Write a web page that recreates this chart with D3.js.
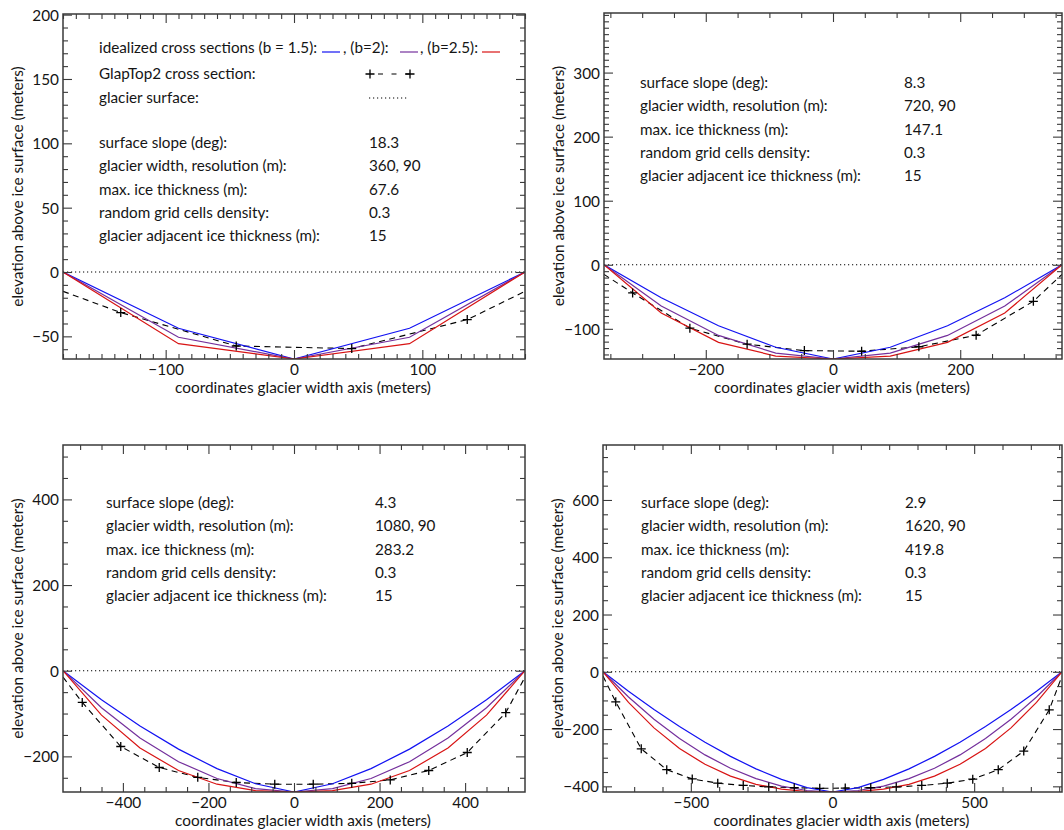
<!DOCTYPE html>
<html>
<head>
<meta charset="utf-8">
<script src="https://cdn.jsdelivr.net/npm/d3@7"></script>
<style>
  body { margin: 0; background: #fff; }
  svg { display: block; }
  text { font-family: Lato, "Open Sans", sans-serif; fill: #151515; }
</style>
</head>
<body>
<svg id="chart" width="1064" height="830"></svg>
<script>
// ---------------------------------------------------------------
// Glacier cross sections: idealized power-law beds (b = 1.5, 2, 2.5)
// versus the GlapTop2 reconstruction, for four glacier widths.
// ---------------------------------------------------------------

const infoLabels = [
  "surface slope (deg):",
  "glacier width, resolution (m):",
  "max. ice thickness (m):",
  "random grid cells density:",
  "glacier adjacent ice thickness (m):"
];

// Panel 1 — 360 m wide glacier
const xIdeal1   = [-180, -90, 0, 90, 180];
const idealB15_1 = [0, -43.7, -67.6, -43.7, 0];
const idealB20_1 = [0, -50.7, -67.6, -50.7, 0];
const idealB25_1 = [0, -55.7, -67.6, -55.7, 0];
const xGlap1    = [-180, -135, -45, 45, 135, 180];
const glap1     = [-15, -31.5, -57.5, -59.5, -37, -15];
const info1     = ["18.3", "360, 90", "67.6", "0.3", "15"];
const xTicks1   = [-100, 0, 100];
const yTicks1   = [-50, 0, 50, 100, 150, 200];

// Panel 2 — 720 m wide glacier
const xIdeal2   = [-360, -270, -180, -90, 0, 90, 180, 270, 360];
const idealB15_2 = [0, -51.6, -95.1, -128.7, -147.1, -128.7, -95.1, -51.6, 0];
const idealB20_2 = [0, -64.4, -110.3, -137.9, -147.1, -137.9, -110.3, -64.4, 0];
const idealB25_2 = [0, -75.4, -121.1, -142.5, -147.1, -142.5, -121.1, -75.4, 0];
const xGlap2    = [-360, -315, -225, -135, -45, 45, 135, 225, 315, 360];
const glap2     = [-15, -44, -99, -124, -134, -135, -128, -110, -57, -15];
const info2     = ["8.3", "720, 90", "147.1", "0.3", "15"];
const xTicks2   = [-200, 0, 200];
const yTicks2   = [-100, 0, 100, 200, 300];

// Panel 3 — 1080 m wide glacier
const xIdeal3   = [-540, -450, -360, -270, -180, -90, 0, 90, 180, 270, 360, 450, 540];
const idealB15_3 = [0, -67.8, -129.1, -183.1, -228.7, -263.9, -283.2, -263.9, -228.7, -183.1, -129.1, -67.8, 0];
const idealB20_3 = [0, -86.5, -157.3, -212.4, -251.7, -275.3, -283.2, -275.3, -251.7, -212.4, -157.3, -86.5, 0];
const idealB25_3 = [0, -103.7, -180.4, -233.1, -265.0, -280.0, -283.2, -280.0, -265.0, -233.1, -180.4, -103.7, 0];
const xGlap3    = [-540, -495, -405, -315, -225, -135, -45, 45, 135, 225, 315, 405, 495, 540];
const glap3     = [-15, -74, -177, -226, -249, -261, -265, -265, -263, -255, -233, -191, -98, -15];
const info3     = ["4.3", "1080, 90", "283.2", "0.3", "15"];
const xTicks3   = [-400, -200, 0, 200, 400];
const yTicks3   = [-200, 0, 200, 400];

// Panel 4 — 1620 m wide glacier
const xIdeal4   = [-810, -720, -630, -540, -450, -360, -270, -180, -90, 0,
                   90, 180, 270, 360, 450, 540, 630, 720, 810];
const idealB15_4 = [0, -68.0, -131.9, -191.3, -246.0, -295.4, -339.0, -375.8, -404.3, -419.8,
                    -404.3, -375.8, -339.0, -295.4, -246.0, -191.3, -131.9, -68.0, 0];
const idealB20_4 = [0, -88.1, -165.9, -233.2, -290.2, -336.9, -373.2, -399.1, -414.6, -419.8,
                    -414.6, -399.1, -373.2, -336.9, -290.2, -233.2, -165.9, -88.1, 0];
const idealB25_4 = [0, -107.1, -195.8, -267.5, -323.2, -364.5, -392.9, -410.0, -418.1, -419.8,
                    -418.1, -410.0, -392.9, -364.5, -323.2, -267.5, -195.8, -107.1, 0];
const xGlap4    = [-810, -765, -675, -585, -495, -405, -315, -225, -135, -45,
                   45, 135, 225, 315, 405, 495, 585, 675, 765, 810];
const glap4     = [-15, -105, -269, -342, -374, -389, -397, -402, -405, -407,
                   -406, -405, -402, -397, -389, -375, -342, -277, -133, -15];
const info4     = ["2.9", "1620, 90", "419.8", "0.3", "15"];
const xTicks4   = [-500, 0, 500];
const yTicks4   = [-400, -200, 0, 200, 400, 600];

const seriesColors = ["#1212f2", "#74309c", "#d81414"];

// ---------------------------------------------------------------
const svg = d3.select("#chart");

// font sizes chosen so that reference strings span a set width
function fitSize(str, width) {
  const t = svg.append("text").style("font-size", "100px").text(str);
  const w = t.node().getComputedTextLength();
  t.remove();
  return 100 * width / w;
}
const axisFont = fitSize("coordinates glacier width axis (meters)", 256);
const textFont = fitSize("glacier adjacent ice thickness (m):", 221);

const panels = [
  { xIdeal: xIdeal1, ideal: [idealB15_1, idealB20_1, idealB25_1], xGlap: xGlap1, glap: glap1,
    info: info1, xTicks: xTicks1, yTicks: yTicks1, xMinor: 10, yMinor: 10, yTop: 200.5,
    box: { left: 63, right: 525, top: 14, bottom: 359 },
    infoX: [99, 369], infoY: 143, legend: true },
  { xIdeal: xIdeal2, ideal: [idealB15_2, idealB20_2, idealB25_2], xGlap: xGlap2, glap: glap2,
    info: info2, xTicks: xTicks2, yTicks: yTicks2, xMinor: 50, yMinor: 10, yTop: 393,
    box: { left: 604, right: 1062, top: 13, bottom: 359 },
    infoX: [640, 904], infoY: 83, legend: false },
  { xIdeal: xIdeal3, ideal: [idealB15_3, idealB20_3, idealB25_3], xGlap: xGlap3, glap: glap3,
    info: info3, xTicks: xTicks3, yTicks: yTicks3, xMinor: 50, yMinor: 50, yTop: 527,
    box: { left: 63, right: 525, top: 445, bottom: 792 },
    infoX: [106, 375], infoY: 503, legend: false },
  { xIdeal: xIdeal4, ideal: [idealB15_4, idealB20_4, idealB25_4], xGlap: xGlap4, glap: glap4,
    info: info4, xTicks: xTicks4, yTicks: yTicks4, xMinor: 100, yMinor: 50, yTop: 792,
    box: { left: 603, right: 1062, top: 445, bottom: 792 },
    infoX: [641, 905], infoY: 503, legend: false }
];

const plusPath = "M-4.5,0H4.5M0,-4.5V4.5";

function minorValues(domain, step, majors) {
  const lo = Math.ceil(domain[0] / step) * step;
  const hi = Math.floor(domain[1] / step) * step;
  return d3.range(lo, hi + step / 2, step).filter(v => !majors.includes(v));
}

function styleAxis(sel, showLabels) {
  sel.select(".domain").remove();
  sel.selectAll(".tick line").attr("stroke", "#3a3a3a").attr("stroke-width", 1.1);
  if (!showLabels) sel.selectAll(".tick text").remove();
  sel.selectAll(".tick text")
    .attr("fill", "#151515")
    .style("font-size", axisFont + "px")
    .style("font-family", "Lato, 'Open Sans', sans-serif");
}

panels.forEach((p, idx) => {
  const b = p.box;
  const xDomain = d3.extent(p.xIdeal);
  const yDomain = [d3.min(p.ideal[0]), p.yTop];
  const x = d3.scaleLinear().domain(xDomain).range([b.left, b.right]);
  const y = d3.scaleLinear().domain(yDomain).range([b.bottom, b.top]);

  const g = svg.append("g");
  const clipId = "clip" + idx;
  g.append("clipPath").attr("id", clipId)
    .append("rect")
    .attr("x", b.left).attr("y", b.top)
    .attr("width", b.right - b.left).attr("height", b.bottom - b.top);

  const plot = g.append("g").attr("clip-path", `url(#${clipId})`);

  // glacier surface
  plot.append("line")
    .attr("x1", x(xDomain[0])).attr("x2", x(xDomain[1]))
    .attr("y1", y(0)).attr("y2", y(0))
    .attr("stroke", "#000").attr("stroke-width", 1.1)
    .attr("stroke-dasharray", "1.2,2.8");

  // GlapTop2 cross section
  const glapLine = d3.line().x((d, i) => x(p.xGlap[i])).y(d => y(d));
  plot.append("path").datum(p.glap)
    .attr("d", glapLine)
    .attr("fill", "none").attr("stroke", "#000").attr("stroke-width", 1.1)
    .attr("stroke-dasharray", "6,4.5");

  // idealized cross sections
  const idealLine = d3.line().x((d, i) => x(p.xIdeal[i])).y(d => y(d));
  p.ideal.forEach((vals, k) => {
    plot.append("path").datum(vals)
      .attr("d", idealLine)
      .attr("fill", "none").attr("stroke", seriesColors[k]).attr("stroke-width", 1.2);
  });

  // GlapTop2 grid-cell markers (inside the glacier)
  plot.selectAll("path.plus")
    .data(p.glap.slice(1, -1).map((v, i) => [p.xGlap[i + 1], v]))
    .join("path")
    .attr("class", "plus")
    .attr("d", plusPath)
    .attr("transform", d => `translate(${x(d[0])},${y(d[1])})`)
    .attr("stroke", "#000").attr("stroke-width", 1.3).attr("fill", "none");

  // axes: major + minor ticks on all four sides, pointing inward
  const xMin = minorValues(xDomain, p.xMinor, p.xTicks);
  const yMin = minorValues(yDomain, p.yMinor, p.yTicks);

  const axes = [
    [d3.axisBottom(x).tickValues(p.xTicks).tickSize(-9).tickSizeOuter(0).tickFormat(d3.format("d")), `translate(0,${b.bottom})`, true],
    [d3.axisBottom(x).tickValues(xMin).tickSize(-5).tickSizeOuter(0), `translate(0,${b.bottom})`, false],
    [d3.axisTop(x).tickValues(p.xTicks).tickSize(-9).tickSizeOuter(0), `translate(0,${b.top})`, false],
    [d3.axisTop(x).tickValues(xMin).tickSize(-5).tickSizeOuter(0), `translate(0,${b.top})`, false],
    [d3.axisLeft(y).tickValues(p.yTicks).tickSize(-9).tickSizeOuter(0).tickFormat(d3.format("d")), `translate(${b.left},0)`, true],
    [d3.axisLeft(y).tickValues(yMin).tickSize(-5).tickSizeOuter(0), `translate(${b.left},0)`, false],
    [d3.axisRight(y).tickValues(p.yTicks).tickSize(-9).tickSizeOuter(0), `translate(${b.right},0)`, false],
    [d3.axisRight(y).tickValues(yMin).tickSize(-5).tickSizeOuter(0), `translate(${b.right},0)`, false]
  ];
  axes.forEach(([ax, tr, labels], i) => {
    const a = g.append("g").attr("transform", tr).call(ax);
    styleAxis(a, labels);
    if (labels && i === 0) {
      a.selectAll(".tick text").attr("y", 16).attr("dy", null);
    }
    if (labels && i === 4) {
      a.selectAll(".tick text").attr("x", -4).attr("dy", "0.36em");
    }
  });

  // frame
  g.append("rect")
    .attr("x", b.left).attr("y", b.top)
    .attr("width", b.right - b.left).attr("height", b.bottom - b.top)
    .attr("fill", "none").attr("stroke", "#3a3a3a").attr("stroke-width", 1.5);

  // axis titles
  g.append("text")
    .attr("x", (b.left + b.right) / 2 + 9).attr("y", b.bottom + 34)
    .attr("text-anchor", "middle")
    .style("font-size", axisFont + "px")
    .text("coordinates glacier width axis (meters)");
  g.append("text")
    .attr("transform", `translate(${b.left - 40},${(b.top + b.bottom) / 2}) rotate(-90)`)
    .attr("text-anchor", "middle")
    .style("font-size", axisFont + "px")
    .text("elevation above ice surface (meters)");

  // run parameters
  const rowH = 23.3;
  infoLabels.forEach((lab, r) => {
    const yy = p.infoY + r * rowH + 5;
    g.append("text").attr("x", p.infoX[0]).attr("y", yy)
      .style("font-size", textFont + "px").text(lab);
    g.append("text").attr("x", p.infoX[1]).attr("y", yy)
      .style("font-size", textFont + "px").text(p.info[r]);
  });

  // legend
  if (p.legend) {
    const lg = g.append("g");
    const r1 = 48, r2 = 74, r3 = 98;
    const pieces = [
      ["idealized cross sections (b = 1.5):", 99],
      [", (b=2):", 343],
      [", (b=2.5):", 420]
    ];
    pieces.forEach(([t, xx]) => lg.append("text").attr("x", xx).attr("y", r1 + 5)
      .style("font-size", textFont + "px").text(t));
    [[322, 340], [400, 418], [482, 500]].forEach(([x1, x2], k) => {
      lg.append("line").attr("x1", x1).attr("x2", x2).attr("y1", r1 + 4).attr("y2", r1 + 4)
        .attr("stroke", seriesColors[k]).attr("stroke-width", 1.2);
    });
    lg.append("text").attr("x", 99).attr("y", r2 + 5)
      .style("font-size", textFont + "px").text("GlapTop2 cross section:");
    lg.append("line").attr("x1", 370).attr("x2", 410).attr("y1", r2).attr("y2", r2)
      .attr("stroke", "#000").attr("stroke-width", 1.1).attr("stroke-dasharray", "5,8.5")
      .attr("stroke-dashoffset", -8);
    [370, 410].forEach(xx => lg.append("path").attr("d", plusPath)
      .attr("transform", `translate(${xx},${r2})`)
      .attr("stroke", "#000").attr("stroke-width", 1.3).attr("fill", "none"));
    lg.append("text").attr("x", 99).attr("y", r3 + 5)
      .style("font-size", textFont + "px").text("glacier surface:");
    lg.append("line").attr("x1", 369).attr("x2", 407).attr("y1", r3).attr("y2", r3)
      .attr("stroke", "#000").attr("stroke-width", 1.1).attr("stroke-dasharray", "1.2,2.8");
  }
});
</script>
</body>
</html>
